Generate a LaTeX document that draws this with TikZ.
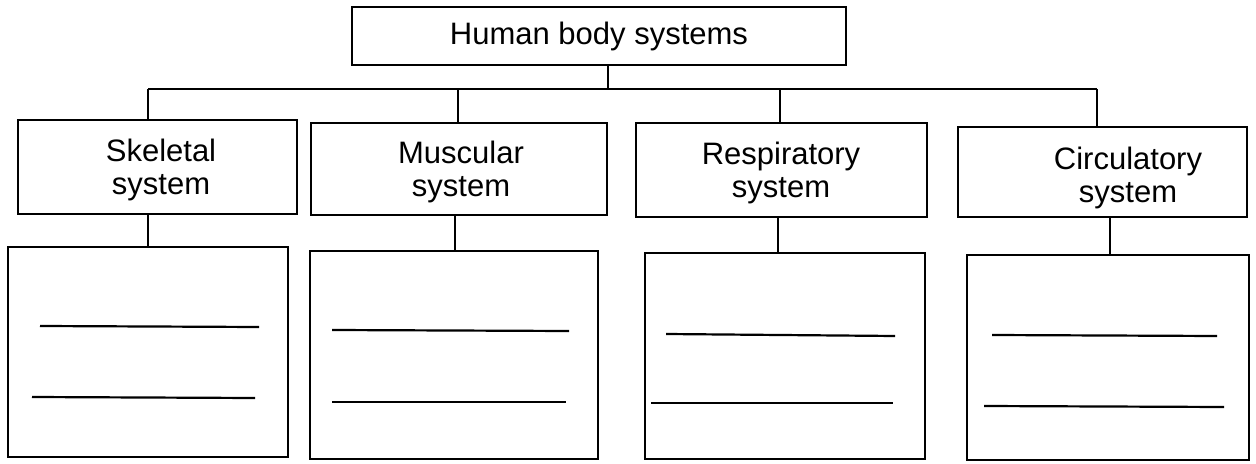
\documentclass[tikz,border=0pt]{standalone}
\usepackage{fontspec}
\setmainfont{Liberation Sans}
\begin{document}
\begin{tikzpicture}[x=0.5pt,y=-0.5pt,
  box/.style={draw=black,line width=1.3pt,inner sep=0pt,outer sep=0pt,fill=white,
    font=\fontsize{15.5}{17}\selectfont,align=center},
  systext/.style={font=\fontsize{15.5}{16.8}\selectfont,align=center,inner sep=0pt},
  conn/.style={draw=black,line width=1.1pt},
  wline/.style={draw=black,line width=1.1pt}]
\useasboundingbox[fill=white] (0,0) rectangle (1256,464);
% top box
\node[box,minimum width=247pt,minimum height=29pt] (top) at (599,36) {Human body systems};
% systems
\node[box,minimum width=139.5pt,minimum height=47pt] (skel) at (157.5,167) {};
\node[box,minimum width=148pt,minimum height=46pt] (musc) at (459,169) {};
\node[box,minimum width=145.5pt,minimum height=47pt] (resp) at (781.5,170) {};
\node[box,minimum width=144.5pt,minimum height=45pt] (circ) at (1102.5,172) {};
\node[systext] (tskel) at (161,170) {Skeletal\\system};
\node[systext] (tmusc) at (461,172) {Muscular\\system};
\node[systext] (tresp) at (781,173) {Respiratory\\system};
\node[systext] (tcirc) at (1128,178) {Circulatory\\system};
% answer boxes
\node[box,minimum width=140pt,minimum height=105pt] (ans1) at (148,352) {};
\node[box,minimum width=144pt,minimum height=104pt] (ans2) at (454,355) {};
\node[box,minimum width=140pt,minimum height=103pt] (ans3) at (785,356) {};
\node[box,minimum width=141pt,minimum height=102.5pt] (ans4) at (1108,357.5) {};
% connector junctions
\coordinate (hub) at (608,89);
\coordinate (j1) at (148,89);
\coordinate (j2) at (458,89);
\coordinate (j3) at (780,89);
\coordinate (j4) at (1097,89);
\coordinate (s1) at (148,0);
\coordinate (s2) at (455,0);
\coordinate (s3) at (778,0);
\coordinate (s4) at (1110,0);
\draw[conn] (hub |- top.south) -- (hub);
\draw[conn] (j1) -- (j4);
\draw[conn] (j1) -- (j1 |- skel.north);
\draw[conn] (j2) -- (j2 |- musc.north);
\draw[conn] (j3) -- (j3 |- resp.north);
\draw[conn] (j4) -- (j4 |- circ.north);
\draw[conn] (s1 |- skel.south) -- (s1 |- ans1.north);
\draw[conn] (s2 |- musc.south) -- (s2 |- ans2.north);
\draw[conn] (s3 |- resp.south) -- (s3 |- ans3.north);
\draw[conn] (s4 |- circ.south) -- (s4 |- ans4.north);
% writing lines
\draw[wline] (40,326) -- (259,327);
\draw[wline] (32,397) -- (255,398);
\draw[wline] (332,330) -- (569,331);
\draw[wline] (332,402) -- (566,402);
\draw[wline] (666,334) -- (895,336);
\draw[wline] (651,403) -- (893,403);
\draw[wline] (992,335) -- (1217,336);
\draw[wline] (984,406) -- (1224,407);
\end{tikzpicture}
\end{document}
